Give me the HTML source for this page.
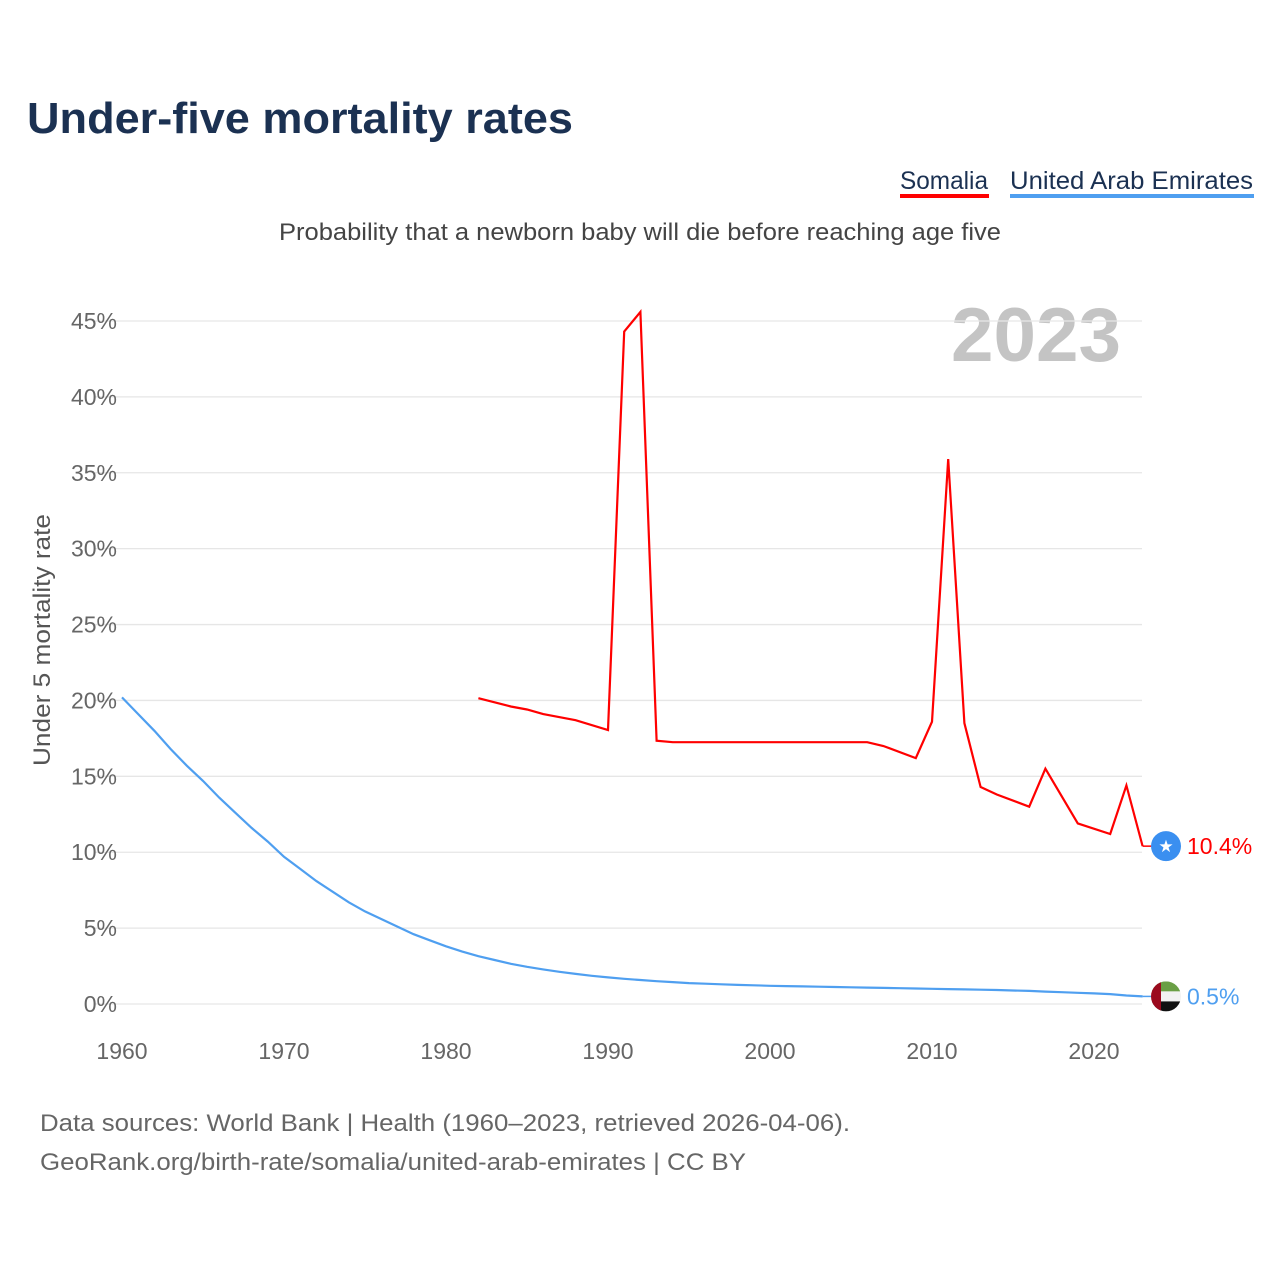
<!DOCTYPE html>
<html><head><meta charset="utf-8"><style>
html,body{margin:0;padding:0;background:#fff;}
svg{display:block;font-family:"Liberation Sans",sans-serif;}
</style></head><body>
<svg id="chart" width="1280" height="1280" viewBox="0 0 1280 1280" xmlns="http://www.w3.org/2000/svg">
<rect width="1280" height="1280" fill="#fff"/>
<text x="27" y="133" font-size="44" font-weight="bold" fill="#1b3152" textLength="546" lengthAdjust="spacingAndGlyphs">Under-five mortality rates</text>
<g>
<text x="900" y="189" font-size="25" fill="#1b3152" textLength="88" lengthAdjust="spacingAndGlyphs">Somalia</text>
<rect x="900" y="194" width="89" height="4" fill="#ff0000"/>
</g>
<g>
<text x="1010" y="189" font-size="25" fill="#1b3152" textLength="243" lengthAdjust="spacingAndGlyphs">United Arab Emirates</text>
<rect x="1010" y="194" width="244" height="4" fill="#4f9ff0"/>
</g>
<text x="640" y="240" font-size="24" fill="#444" text-anchor="middle" textLength="722" lengthAdjust="spacingAndGlyphs">Probability that a newborn baby will die before reaching age five</text>
<text x="1121" y="361" font-size="76" font-weight="bold" fill="#c4c4c4" text-anchor="end" textLength="170" lengthAdjust="spacingAndGlyphs">2023</text>
<g id="grid"></g>
<g id="yticks"></g>
<g id="xticks"></g>
<text transform="translate(50,640) rotate(-90)" font-size="24" fill="#555" text-anchor="middle" textLength="252" lengthAdjust="spacingAndGlyphs">Under 5 mortality rate</text>
<g id="series"></g>
<text x="40" y="1131" font-size="24" fill="#666" textLength="810" lengthAdjust="spacingAndGlyphs">Data sources: World Bank | Health (1960–2023, retrieved 2026-04-06).</text>
<text x="40" y="1170" font-size="24" fill="#666" textLength="706" lengthAdjust="spacingAndGlyphs">GeoRank.org/birth-rate/somalia/united-arab-emirates | CC BY</text>
</svg>
<script>
const yTicks=[0,5,10,15,20,25,30,35,40,45];
const xTicks=[1960,1970,1980,1990,2000,2010,2020];
const somYears=[1982,1984,1985,1986,1988,1990,1991,1992,1993,1994,2006,2007,2009,2010,2011,2012,2013,2014,2016,2017,2019,2021,2022,2023];
const somVals=[20.15,19.6,19.4,19.1,18.7,18.05,44.3,45.6,17.35,17.25,17.25,17.0,16.2,18.6,35.9,18.5,14.3,13.8,13.0,15.5,11.9,11.2,14.4,10.4];
const uaeYears=[];for(let y=1960;y<=2023;y++)uaeYears.push(y);
const uaeVals=[20.2,19.1,18.0,16.8,15.7,14.7,13.6,12.6,11.6,10.7,9.7,8.9,8.1,7.4,6.7,6.1,5.6,5.1,4.6,4.2,3.8,3.45,3.15,2.9,2.65,2.45,2.28,2.12,1.98,1.86,1.75,1.66,1.58,1.5,1.44,1.38,1.34,1.3,1.26,1.23,1.2,1.18,1.16,1.14,1.12,1.1,1.08,1.06,1.04,1.02,1.0,0.98,0.96,0.94,0.92,0.89,0.86,0.82,0.78,0.74,0.7,0.65,0.56,0.5];
const NS="http://www.w3.org/2000/svg";
const X=y=>122+(y-1960)*16.2;
const Y=v=>1004-v*15.178;
function mk(t,a,p){const e=document.createElementNS(NS,t);for(const k in a)e.setAttribute(k,a[k]);p.appendChild(e);return e;}
const grid=document.getElementById('grid'),yt=document.getElementById('yticks'),xt=document.getElementById('xticks'),ser=document.getElementById('series');
yTicks.forEach(v=>{
 const l=mk('line',{x1:95,x2:1142,y1:Y(v),y2:Y(v),stroke:'#e6e6e6','stroke-width':1.3},grid);
 
 
 const t=mk('text',{x:117,y:Y(v)+8,'font-size':23,fill:'#666','text-anchor':'end'},yt);
 t.textContent=v+'%';
 
 
});
xTicks.forEach(v=>{
 const t=mk('text',{x:X(v),y:1059,'font-size':23,fill:'#666','text-anchor':'middle'},xt);
 t.textContent=v;
 
 
});
function line(years,vals,color,name){
 const d=years.map((y,i)=>(i?'L':'M')+X(y).toFixed(1)+','+Y(vals[i]).toFixed(1)).join('');
 const p=mk('path',{d:d,fill:'none',stroke:color,'stroke-width':2.2,'stroke-linejoin':'miter'},ser);
 
 
}
line(uaeYears,uaeVals,'#4f9ff0','uae-line');
line(somYears,somVals,'#ff0000','somalia-line');
const sy=Y(somVals[somVals.length-1]), uy=Y(uaeVals[uaeVals.length-1]);
mk('line',{x1:X(2023),x2:1152,y1:sy,y2:sy,stroke:'#ff0000','stroke-width':1.5},ser);
mk('line',{x1:X(2023),x2:1152,y1:uy,y2:uy,stroke:'#4f9ff0','stroke-width':1.5},ser);
const sg=mk('g',{},ser);


mk('circle',{cx:1166,cy:sy,r:15,fill:'#3a8ff0'},sg);
const st=mk('text',{x:1166,y:sy+6,'font-size':17,fill:'#fff','text-anchor':'middle'},sg);st.textContent='★';
const sl=mk('text',{x:1187,y:sy+8,'font-size':23,fill:'#ff0000'},ser);
sl.textContent=somVals[somVals.length-1].toFixed(1)+'%';


const ug=mk('g',{},ser);


const cp=mk('clipPath',{id:'uc'},ug);mk('circle',{cx:1166,cy:uy,r:15},cp);
const uc=mk('g',{'clip-path':'url(#uc)'},ug);
mk('rect',{x:1151,y:uy-15,width:30,height:10,fill:'#6a9f45'},uc);
mk('rect',{x:1151,y:uy-5,width:30,height:10,fill:'#f2f2f2'},uc);
mk('rect',{x:1151,y:uy+5,width:30,height:10,fill:'#111'},uc);
mk('rect',{x:1151,y:uy-15,width:10,height:30,fill:'#9b0a1e'},uc);
const ul=mk('text',{x:1187,y:uy+8,'font-size':23,fill:'#4f9ff0'},ser);
ul.textContent=uaeVals[uaeVals.length-1].toFixed(1)+'%';


</script>
</body></html>
